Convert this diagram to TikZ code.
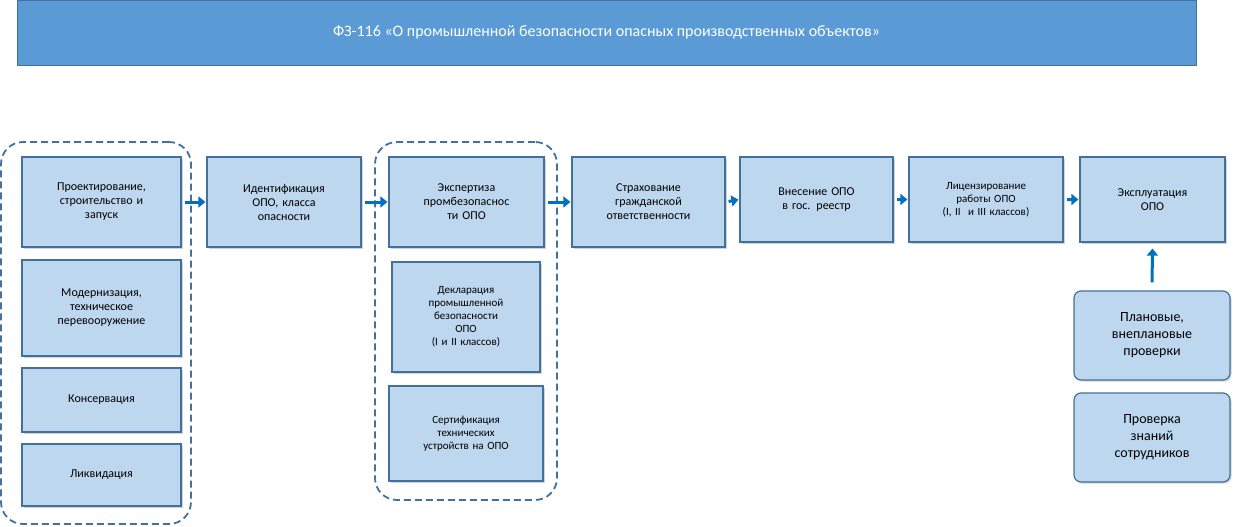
\documentclass[tikz,border=0pt]{standalone}
\usepackage{fontspec}
\setmainfont{Carlito}
\usetikzlibrary{arrows.meta,shadows}
\definecolor{boxfill}{HTML}{BDD7EE}
\definecolor{boxline}{HTML}{41719C}
\definecolor{titlefill}{HTML}{5B9BD5}
\definecolor{arr}{HTML}{0070C0}
\tikzset{
  bx/.style={draw=boxline,line width=1.2pt,fill=boxfill,align=center,inner sep=2pt,font=\fontsize{12}{14}\selectfont,drop shadow={shadow xshift=1.5pt,shadow yshift=-1.5pt,opacity=0.35}},
  rbx/.style={bx,rounded corners=7pt,font=\fontsize{14}{17}\selectfont},
  grp/.style={draw=boxline,line width=1.8pt,dash pattern=on 7pt off 4pt,rounded corners=22pt},
  ar/.style={-{Triangle[length=7pt,width=11pt]},line width=3pt,draw=arr,shorten <=3pt,shorten >=1pt}
}
\newcommand{\bxat}[6]{\node[#6,minimum width=#3-#1,minimum height=#4-#2] (#5) at ({(#1+#3)/2},{(#2+#4)/2}) {};}
\begin{document}
\begin{tikzpicture}[x=1pt,y=-1pt]
\useasboundingbox (0,0) rectangle (1239,527);
\node[draw=boxline,fill=titlefill,minimum width=1179pt,minimum height=65pt,text=white,font=\fontsize{16}{19}\selectfont] (t) at (606.5,32.5) {ФЗ-116 «О промышленной безопасности опасных производственных объектов»};
\node[grp,minimum width=190pt,minimum height=382pt] (g1) at (96,333) {};
\node[grp,minimum width=182pt,minimum height=358pt] (g2) at (466,321) {};
\node[bx,minimum width=159pt,minimum height=90pt,text width=150pt] (a1) at (101.5,202) {Проектирование,\\строительство и\\запуск};
\node[bx,minimum width=159pt,minimum height=96pt,text width=150pt] (a2) at (101.5,308) {Модернизация,\\техническое\\перевооружение};
\node[bx,minimum width=159pt,minimum height=64pt,text width=150pt] (a3) at (101.5,400) {Консервация};
\node[bx,minimum width=159pt,minimum height=62pt,text width=150pt] (a4) at (101.5,475) {Ликвидация};
\node[bx,minimum width=154pt,minimum height=90pt,text width=148pt] (b) at (284,202) {Идентификация\\ОПО, класса\\опасности};
\node[bx,minimum width=155pt,minimum height=90pt,text width=130pt] (c1) at (466.5,202) {Экспертиза\\промбезопаснос\\ти ОПО};
\node[bx,minimum width=148pt,minimum height=110pt,text width=140pt,font=\fontsize{11}{13}\selectfont] (c2) at (466,317) {Декларация\\промышленной\\безопасности\\ОПО\\(I и II классов)};
\node[bx,minimum width=154pt,minimum height=95pt,text width=140pt,font=\fontsize{11}{13}\selectfont] (c3) at (466,433.5) {Сертификация\\технических\\устройств на ОПО};
\node[bx,minimum width=153pt,minimum height=90pt,text width=145pt] (d) at (648.5,202) {Страхование\\гражданской\\ответственности};
\node[bx,minimum width=153pt,minimum height=85pt,text width=145pt] (e) at (816.5,199.5) {Внесение ОПО\\в гос. реестр};
\node[bx,minimum width=154pt,minimum height=85pt,text width=145pt,font=\fontsize{11}{13}\selectfont] (f) at (986,199.5) {Лицензирование\\работы ОПО\\(I, II~ и III классов)};
\node[bx,minimum width=145pt,minimum height=85pt,text width=140pt] (h) at (1152.5,199.5) {Эксплуатация\\ОПО};
\node[rbx,minimum width=156pt,minimum height=89pt,text width=148pt] (p1) at (1152,335.5) {Плановые,\\внеплановые\\проверки};
\node[rbx,minimum width=156pt,minimum height=89pt,text width=148pt] (p2) at (1152,437.5) {Проверка\\знаний\\сотрудников};
\draw[ar] (a1.east) -- (b.west);
\draw[ar] (b.east) -- (c1.west);
\draw[ar] (c1.east) -- (d.west);
\draw[ar] (d.east) -- (e.west);
\draw[ar] (e.east) -- (f.west);
\draw[ar] (f.east) -- (h.west);
\draw[ar,shorten <=8pt,shorten >=6pt] (p1.north) -- (h.south);
\end{tikzpicture}
\end{document}
